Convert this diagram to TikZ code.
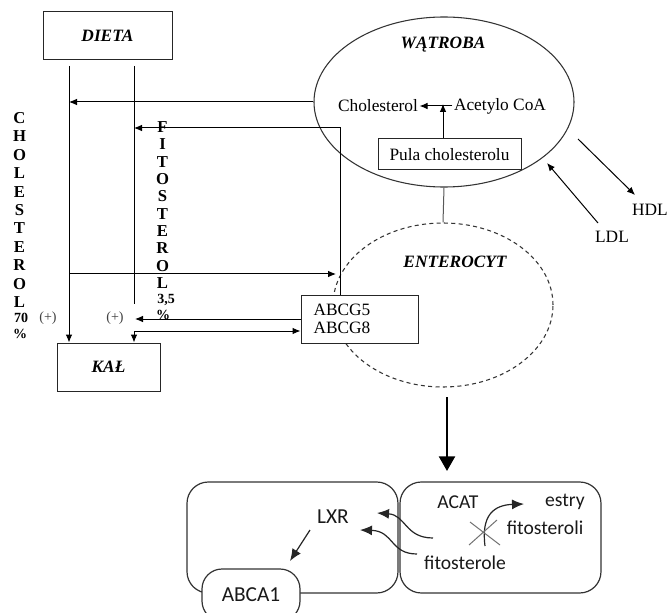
\documentclass[tikz,border=0pt]{standalone}
\usepackage{fontspec}
\setmainfont{Liberation Serif}
\newfontfamily\sansc{Carlito}
\usetikzlibrary{arrows.meta,shapes.geometric}
\begin{document}
\begin{tikzpicture}[x=0.75pt,y=-0.75pt,
  conn/.style={draw=black,line width=0.75pt},
  tip/.style={-{Latex[length=6pt,width=5pt]}},
  box/.style={draw=black!85,line width=0.75pt,fill=white,inner sep=0pt},
  ttl/.style={font=\fontsize{13}{15}\selectfont\bfseries\itshape,inner sep=0pt},
  lbl/.style={font=\fontsize{13}{15}\selectfont,inner sep=1pt},
  vlet/.style={font=\fontsize{12.5}{14}\selectfont\bfseries,inner sep=0pt},
  vnum/.style={font=\fontsize{10.5}{12}\selectfont\bfseries,inner sep=0pt},
  sig/.style={font=\fontsize{10.5}{12}\selectfont,text=black!75,inner sep=0pt},
  organ/.style={ellipse,draw=black!80,line width=0.8pt,inner sep=0pt},
  cell/.style={draw=black!80,line width=0.9pt,rounded corners=16pt,inner sep=0pt},
  sl/.style={font=\sansc\fontsize{14.7}{17}\selectfont,text=black!90,inner sep=0pt},
  bconn/.style={draw=black!85,line width=0.9pt},
  btip/.style={-{Latex[length=9pt,width=7.5pt]}},
]
\useasboundingbox (0,0) rectangle (668,613);
\clip (0,0) rectangle (668,613);
\fill[white] (0,0) rectangle (668,613);

% ---------- organs ----------
\node[organ,minimum width=195pt,minimum height=127.5pt] (liv) at (444,102) {};
\node[organ,dashed,dash pattern=on 3pt off 2.5pt,minimum width=165pt,minimum height=123pt] (ent) at (443,305) {};
\node[ttl] (livt) at (443,45) {WĄTROBA};
\node[ttl] (entt) at (455,262) {ENTEROCYT};

% ---------- boxes ----------
\node[box,minimum width=96.75pt,minimum height=36pt,font=\fontsize{13}{15}\selectfont\bfseries\itshape] (dieta) at (107.5,36) {DIETA};
\node[box,minimum width=77.25pt,minimum height=36pt,font=\fontsize{13}{15}\selectfont\bfseries\itshape] (kal) at (108.5,367) {KAŁ};
\node[box,minimum width=107.25pt,minimum height=23.25pt,font=\fontsize{13}{15}\selectfont] (pula) at (449.5,154.5) {Pula cholesterolu};

% ---------- liver contents ----------
\node[lbl] (chol) at (378,106) {Cholesterol};
\node[lbl] (acoa) at (500,106) {Acetylo CoA};
\coordinate (p1) at (443,104);
\draw[conn,tip] (pula.north -| p1) -- (p1);
\draw[conn,tip] (acoa.west) -- (chol.east);
\draw[conn,draw=black!65] (liv.south) -- (ent.north);

% ---------- HDL / LDL ----------
\node[lbl] (hdl) at (650,210) {HDL};
\node[lbl] (ldl) at (612,237) {LDL};
\coordinate (h1) at (578,139);
\coordinate (h2) at (635,195);
\coordinate (l1) at (598,223);
\coordinate (l2) at (547,163);
\draw[conn,tip] (h1) -- (h2);
\draw[conn,tip] (l1) -- (l2);

% ---------- vertical labels ----------
\foreach \c [count=\i from 0] in {C,H,O,L,E,S,T,E,R,O,L}
  \node[vlet] (cv\i) at (19.5,{118+18.4*\i}) {\c};
\node[vnum] (cv70) at (21,318) {70};
\node[vnum] (cvp) at (20,334) {\%};
\foreach \c [count=\i from 0] in {F,I,T,O,S,T,E,R,O,L}
  \node[vlet] (fv\i) at (162.5,{127+17.33*\i}) {\c};
\node[vnum] (fv35) at (166,300) {3,5};
\node[vnum] (fvp) at (163,315) {\%};
\node[sig] (plus1) at (48,318) {(+)};
\node[sig] (plus2) at (115,318) {(+)};

% ---------- transport box ----------
\node[box,minimum width=87.75pt,minimum height=36pt,align=left,text width=69pt,inner xsep=9pt,
      font=\fontsize{13}{13.6}\selectfont] (abcg) at (359.5,319) {ABCG5\\ABCG8};

% ---------- flows ----------
\coordinate (d1) at (69,66);
\coordinate (d2) at (134,66);
\coordinate (f1) at (134,304);
\coordinate (f2) at (135,318);
\coordinate (f3) at (134,331);
\coordinate (c1) at (340,128);
\coordinate (c2) at (69,274);
\coordinate (c3) at (336,274);
\draw[conn,tip] (d1) -- (kal.north -| d1);
\draw[conn] (d2) -- (f1);
\draw[conn,tip] (liv.west) -- (liv.west -| d1);
\draw[conn,tip] (abcg.north -| c1) -- (c1) -- (c1 -| d2);
\draw[conn,tip] (c2) -- (c3);
\draw[conn,tip] (abcg.west) -- (abcg.west -| f2);
\draw[conn,tip] (f3) -- (kal.north -| f3);
\draw[conn,tip] (f3) -- (f3 -| abcg.west);

% ---------- zoom arrow ----------
\coordinate (b1) at (447,397);
\coordinate (b2) at (447,471);
\draw[line width=1.8pt,-{Triangle[length=11pt,width=12pt]}] (b1) -- (b2);

% ---------- cell detail ----------
\node[cell,minimum width=158.25pt,minimum height=83.25pt] (lcell) at (292.5,537.5) {};
\node[cell,minimum width=150.75pt,minimum height=83.25pt] (rcell) at (500.5,537.5) {};
\node[cell,fill=white,rounded corners=15pt,minimum width=73.5pt,minimum height=39pt,
      font=\sansc\fontsize{16}{18}\selectfont,text=black!90] (abca) at (251,595) {ABCA1};
\node[sl,font=\sansc\fontsize{16}{18}\selectfont] (lxr) at (333,517) {LXR};
\node[sl] (acat) at (458,502) {ACAT};
\node[sl] (estry) at (565,502) {estry};
\node[sl] (fitoi) at (545,528) {fitosteroli};
\node[sl] (fitoe) at (465,563) {fitosterole};

\coordinate (x1) at (310,530);
\coordinate (x2) at (290,561);
\draw[bconn,btip] (x1) -- (x2);
\coordinate (u1) at (433,538);
\coordinate (u2) at (377,513);
\draw[bconn,btip] (u1) .. controls (405,538) and (406,515) .. (u2);
\coordinate (w1) at (417,554);
\coordinate (w2) at (360,530);
\draw[bconn,btip] (w1) .. controls (390,554) and (394,531) .. (w2);
\coordinate (e1) at (485,546);
\coordinate (e2) at (524,504);
\draw[bconn,btip] (e1) .. controls (481,515) and (494,505) .. (e2);
\draw[draw=black!55,line width=0.75pt] (470,522) -- (500,545) (469,545) -- (497,520);
\end{tikzpicture}
\end{document}
